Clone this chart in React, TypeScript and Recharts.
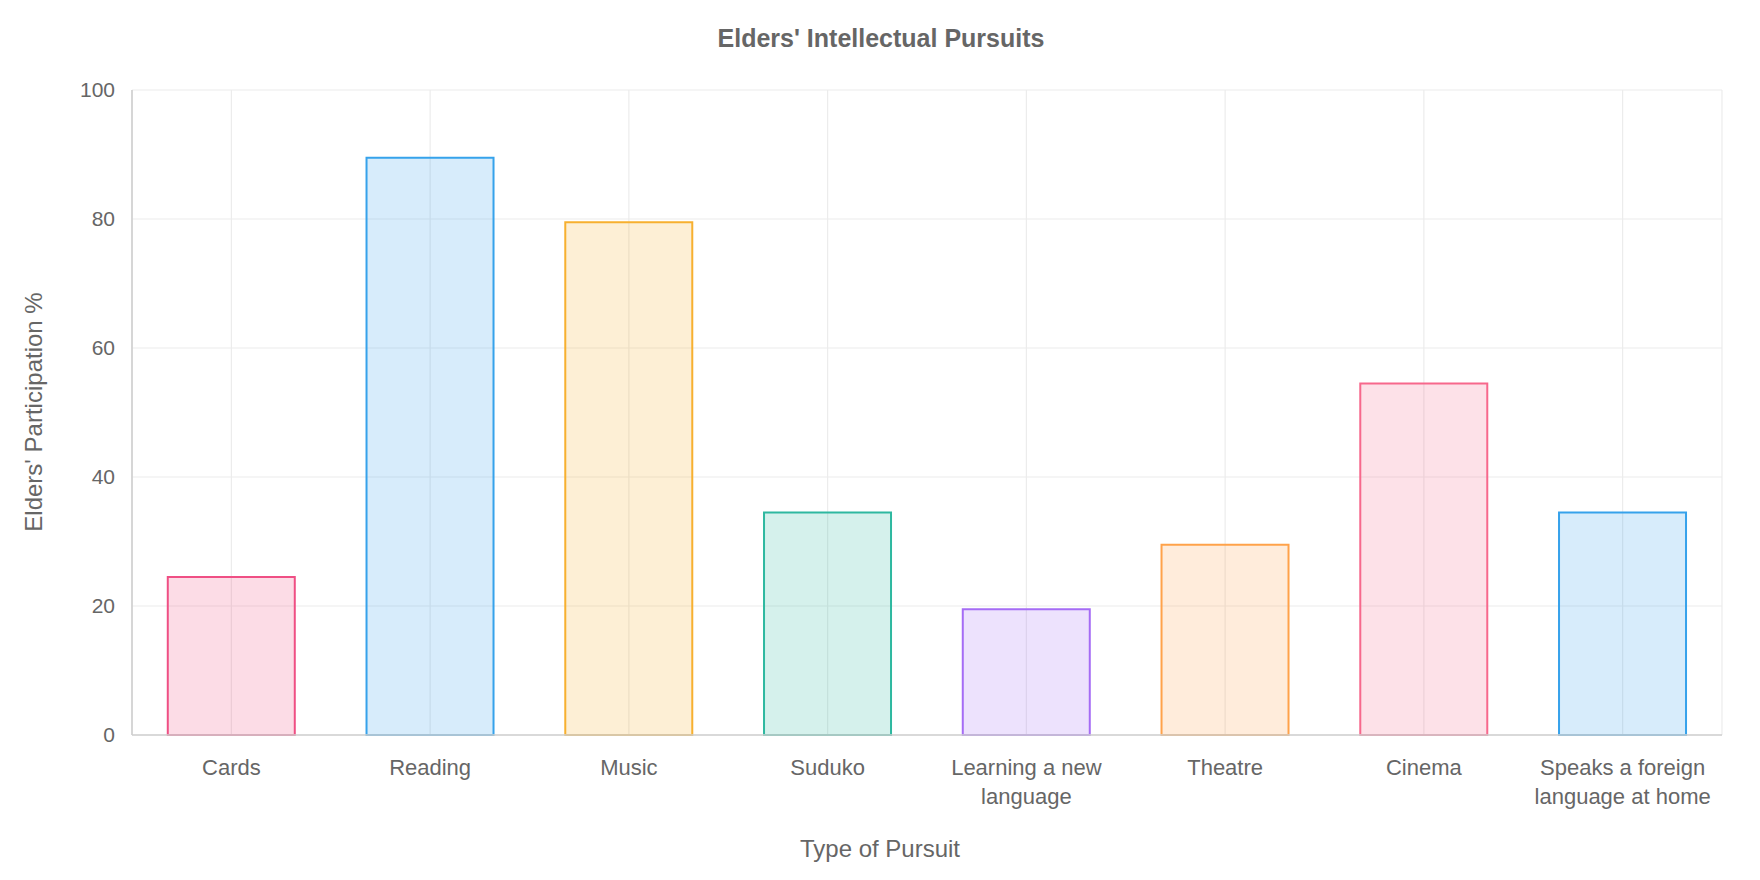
import React from 'react';
import { BarChart, Bar, XAxis, YAxis, CartesianGrid, Cell, Label } from 'recharts';

const categories = [
  'Cards',
  'Reading',
  'Music',
  'Suduko',
  'Learning a new language',
  'Theatre',
  'Cinema',
  'Speaks a foreign language at home',
];
const participation = [24.5, 89.5, 79.5, 34.5, 19.5, 29.5, 54.5, 34.5];
const tickLines = [
  ['Cards'],
  ['Reading'],
  ['Music'],
  ['Suduko'],
  ['Learning a new', 'language'],
  ['Theatre'],
  ['Cinema'],
  ['Speaks a foreign', 'language at home'],
];
const yTicks = [0, 20, 40, 60, 80, 100];
const barColors = ['#ef4f84', '#36a2eb', '#f7b02f', '#2eb8a0', '#a56cf5', '#ffa24a', '#f7688c', '#36a2eb'];

const chartTitle = "Elders' Intellectual Pursuits";
const xTitle = 'Type of Pursuit';
const yTitle = "Elders' Participation %";

const data = categories.map((name, i) => ({ name, value: participation[i] }));

const FONT = '"Liberation Sans", Arial, Helvetica, sans-serif';
const TEXT = '#666666';

function XTick(props: any) {
  const { x, y, payload } = props;
  const idx = categories.indexOf(payload.value);
  const lines = idx >= 0 ? tickLines[idx] : [String(payload.value)];
  return (
    <g>
      <text x={x} y={y} textAnchor="middle" fill={TEXT} fontSize={22} fontFamily={FONT}>
        {lines.map((l: string, i: number) => (
          <tspan key={i} x={x} dy={i === 0 ? '0.71em' : 29}>
            {l}
          </tspan>
        ))}
      </text>
    </g>
  );
}

export default function App() {
  return (
    <div style={{ position: 'absolute', left: 0, top: 0, width: 1760, height: 880, background: '#fff' }}>
      <div
        style={{
          position: 'absolute',
          left: 1,
          top: 24,
          width: 1760,
          textAlign: 'center',
          fontFamily: FONT,
          fontWeight: 'bold',
          fontSize: 25,
          lineHeight: '28px',
          color: TEXT,
        }}
      >
        {chartTitle}
      </div>
      <BarChart
        width={1760}
        height={880}
        data={data}
        margin={{ top: 90, right: 38, bottom: 45, left: 52 }}
        barCategoryGap="18%"
      >
        <CartesianGrid stroke="#ececec" strokeWidth={1.2} />
        <XAxis
          dataKey="name"
          interval={0}
          tick={<XTick />}
          tickLine={false}
          tickSize={10}
          tickMargin={14}
          axisLine={{ stroke: '#cfcfcf', strokeWidth: 1.6 }}
          height={100}
        >
          <Label
            content={() => (
              <text x={880} y={848} textAnchor="middle" dominantBaseline="central" fill={TEXT} fontSize={24} fontFamily={FONT}>
                {xTitle}
              </text>
            )}
          />
        </XAxis>
        <YAxis
          type="number"
          domain={[0, 100]}
          ticks={yTicks}
          width={80}
          tickLine={false}
          tickSize={10}
          tickMargin={7}
          axisLine={{ stroke: '#cfcfcf', strokeWidth: 1.6 }}
          tick={{ fill: TEXT, fontSize: 21, fontFamily: FONT }}
        >
          <Label
            content={() => (
              <text
                x={33}
                y={412}
                transform="rotate(-90 33 412)"
                textAnchor="middle"
                dominantBaseline="central"
                fill={TEXT}
                fontSize={24}
                fontFamily={FONT}
              >
                {yTitle}
              </text>
            )}
          />
        </YAxis>
        <Bar dataKey="value" isAnimationActive={false}>
          {data.map((d, i) => (
            <Cell key={d.name} fill={barColors[i]} fillOpacity={0.2} stroke={barColors[i]} strokeWidth={2} />
          ))}
        </Bar>
      </BarChart>
    </div>
  );
}
